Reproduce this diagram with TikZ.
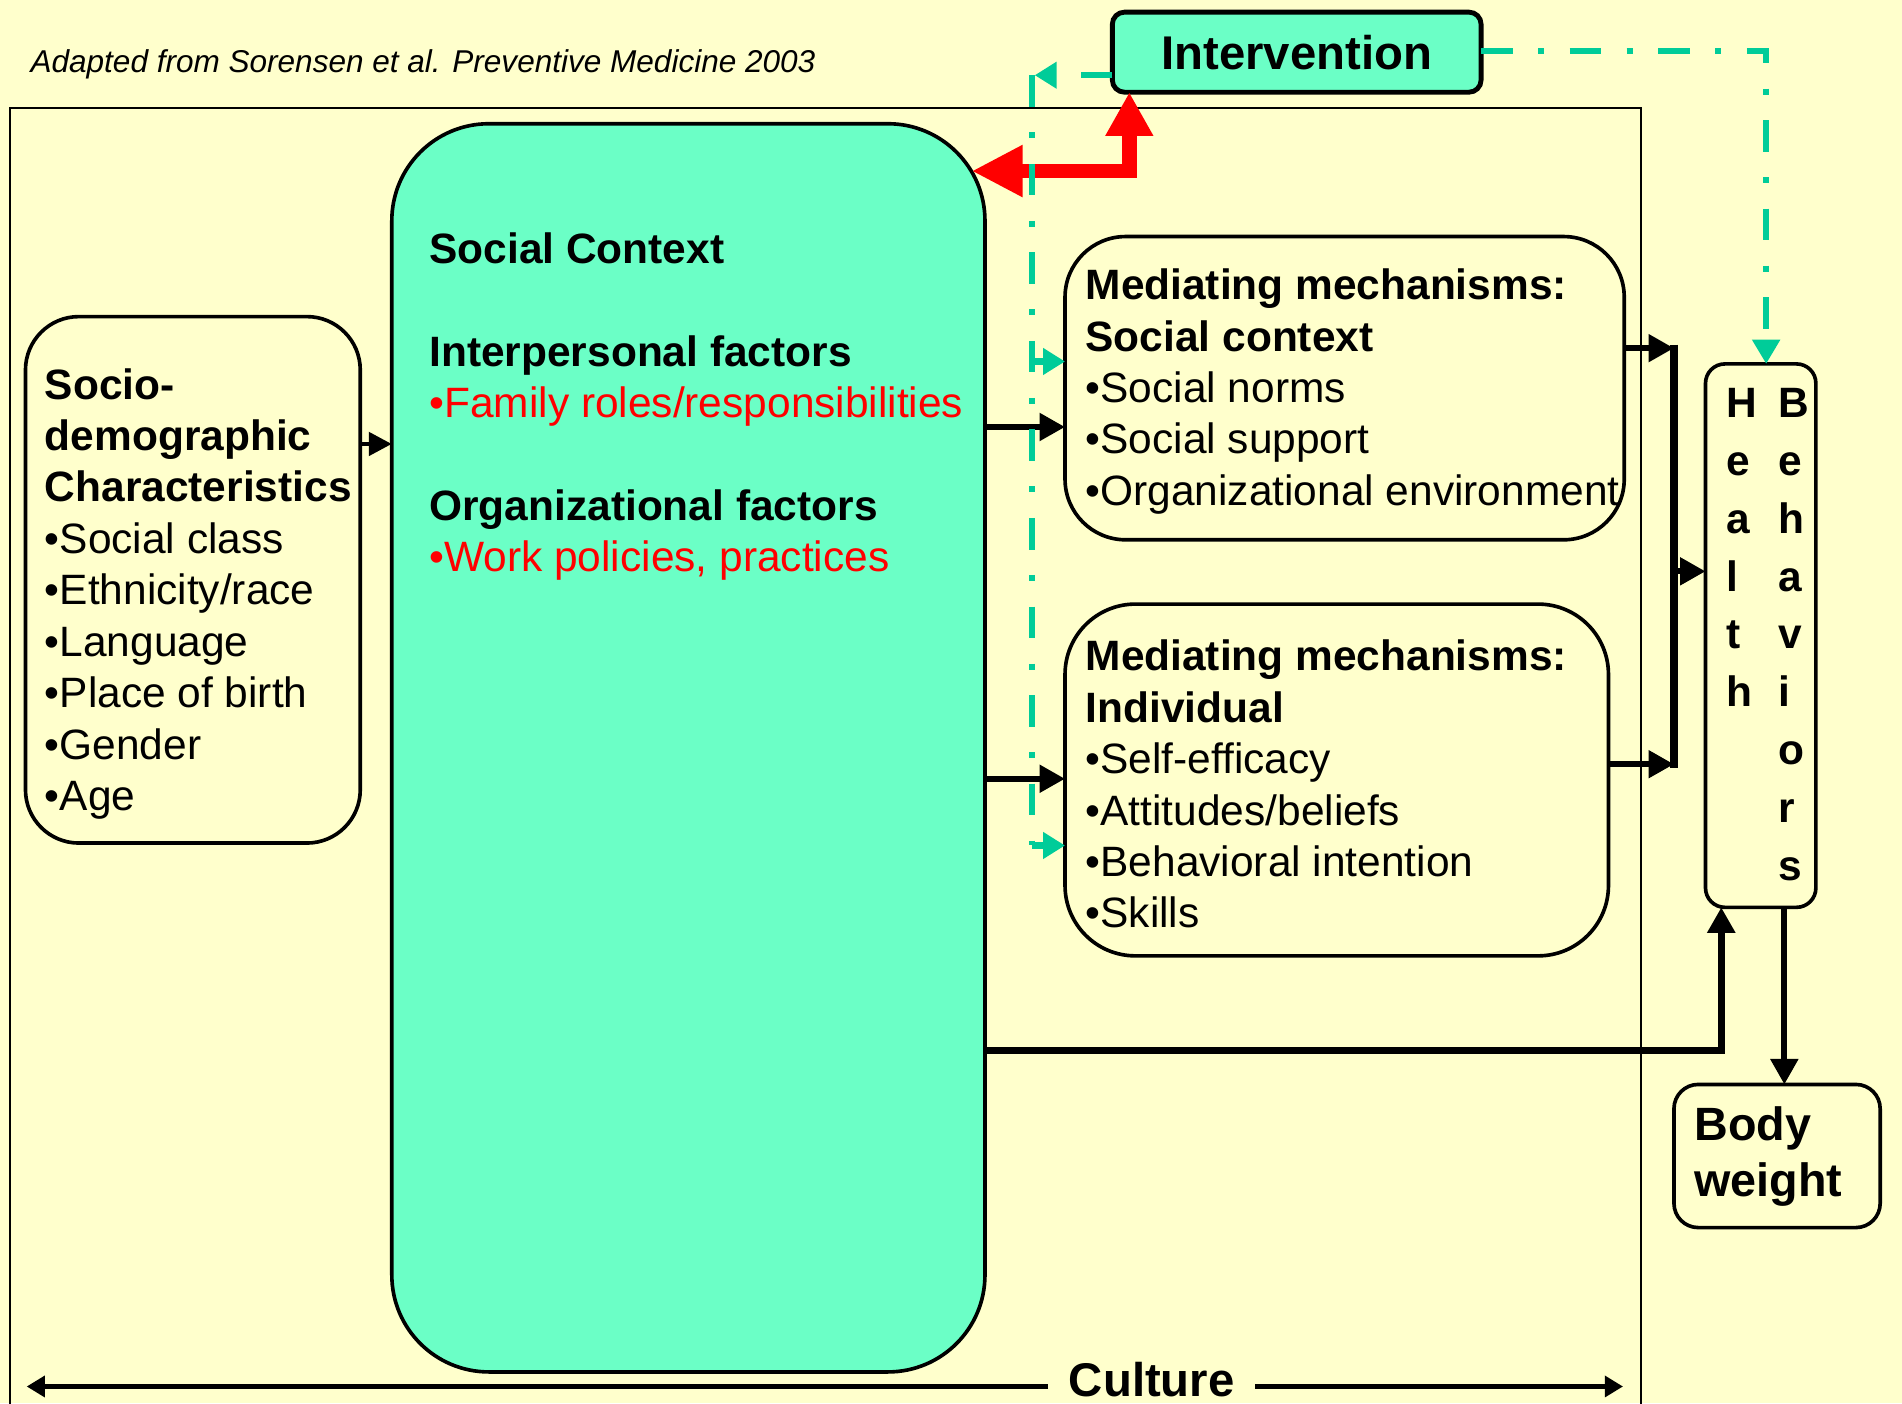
\documentclass[tikz,border=0pt]{standalone}
\usepackage{fontspec}
\setmainfont{Liberation Sans}
\usetikzlibrary{arrows.meta}
\definecolor{paper}{HTML}{FFFFCC}
\definecolor{mint}{HTML}{6BFFC6}
\definecolor{seagreen}{HTML}{00CC99}
\begin{document}
\begin{tikzpicture}[x=1pt, y=-1pt,
  box/.style={rectangle, draw=black, line width=3pt, fill=paper, outer sep=0pt, inner sep=0pt},
  % multi-line blocks are placed by the baseline of their last line
  txt/.style={inner sep=0pt, outer sep=0pt, align=left, anchor=base west,
              font=\fontsize{35}{42.4}\selectfont},
  conn/.style={draw=black, line width=5pt, -{Triangle[length=21pt, width=22pt]}},
  joinbar/.style={draw=black, line width=6pt},
  redarrow/.style={draw=red, line width=12pt, line join=miter,
                   {Triangle[length=42pt, width=40pt]}-{Triangle[length=36pt, width=37pt]}},
  tealline/.style={draw=seagreen, line width=5pt,
                   dash pattern=on 26pt off 21pt on 5pt off 21pt},
  tealtip/.style={-{Triangle[length=18pt, width=21pt]}},
  cultline/.style={draw=black, line width=4.5pt, -{Triangle[length=15pt, width=17pt]}}
]
% canvas
\useasboundingbox (0,0) rectangle (1568,1157);
\clip (0,0) rectangle (1568,1157);
\fill[paper] (0,0) rectangle (1568,1157);

% citation
\node[inner sep=0pt, anchor=base west, font=\itshape\fontsize{26}{30}\selectfont] (cite)
  at (25,60) {Adapted from Sorensen et al. Preventive Medicine 2003};

% culture frame
\draw[line width=1.5pt] (8,1180) -- (8,89) -- (1353,89) -- (1353,1180);

% boxes
\node[box, fill=mint, rounded corners=80pt, minimum width=489pt, minimum height=1029pt] (sc) at (567.5,616.5) {};
\node[box, rounded corners=44pt, minimum width=276pt, minimum height=434pt] (sd) at (159,478) {};
\node[box, rounded corners=50pt, minimum width=461pt, minimum height=250pt] (m1) at (1108.5,320) {};
\node[box, rounded corners=58pt, minimum width=448pt, minimum height=290pt] (m2) at (1102,643) {};
\node[box, rounded corners=16pt, minimum width=91pt, minimum height=448pt] (hb) at (1451.5,524) {};
\node[box, rounded corners=20pt, minimum width=170pt, minimum height=118pt] (bw) at (1465,953) {};
\node[box, fill=mint, line width=4pt, rounded corners=10pt, minimum width=304pt, minimum height=66pt,
      font=\bfseries\fontsize{39}{46}\selectfont] (iv) at (1069,43) {Intervention};

% box texts
\node[txt] (sdtxt) at (37,668.2) {\textbf{Socio-}\\\textbf{demographic}\\\textbf{Characteristics}\\
  •Social class\\•Ethnicity/race\\•Language\\•Place of birth\\•Gender\\•Age};
\node[txt] (sctxt) at (354,471.4) {\textbf{Social Context}\\[42.4pt]
  \textbf{Interpersonal factors}\\\textcolor{red}{•Family roles/responsibilities}\\[42.4pt]
  \textbf{Organizational factors}\\\textcolor{red}{•Work policies, practices}};
\node[txt] (m1txt) at (895,416.6) {\textbf{Mediating mechanisms:}\\\textbf{Social context}\\
  •Social norms\\•Social support\\•Organizational environment};
\node[txt] (m2txt) at (895,765) {\textbf{Mediating mechanisms:}\\\textbf{Individual}\\
  •Self-efficacy\\•Attitudes/beliefs\\•Behavioral intention\\•Skills};
\node[txt, font=\bfseries\fontsize{35}{47.75}\selectfont] (hbH) at (1423,582.75) {H\\e\\a\\l\\t\\h};
\node[txt, font=\bfseries\fontsize{35}{47.75}\selectfont] (hbB) at (1466,726) {B\\e\\h\\a\\v\\i\\o\\r\\s};
\node[txt, font=\bfseries\fontsize{38.5}{46}\selectfont] (bwtxt) at (1397,986) {Body\\weight};

% black connectors
\draw[conn, line width=4pt, -{Triangle[length=19pt, width=19pt]}] (sd.east |- 0,366) -- (sc.west |- 0,366);
\draw[conn] (sc.east |- 0,352) -- (m1.west |- 0,352);
\draw[conn] (sc.east |- 0,642) -- (m2.west |- 0,642);
\coordinate (j1) at (1380,287);
\coordinate (j2) at (1380,630);
\coordinate (j3) at (1380,471);
\draw[conn] (m1.east |- j1) -- (j1);
\draw[conn] (m2.east |- j2) -- (j2);
\draw[joinbar] ([yshift=3pt]j1) -- ([yshift=-3pt]j2);
\draw[conn] (j3) -- (hb.west |- j3);
\coordinate (hbin) at ([xshift=-32.5pt]hb.south);
\coordinate (hbout) at ([xshift=19.5pt]hb.south);
\draw[conn, line width=6pt] (sc.east |- 0,866) -| (hbin);
\draw[conn] (hbout) -- (hbout |- bw.north);

% intervention links
\coordinate (rt) at (801,141);
\draw[redarrow] (rt) -| (iv.south -| 931,0);
\coordinate (tl) at (851,62);
\coordinate (tb) at (851,697);
\draw[tealline, tealtip] (iv.west |- tl) -- ([xshift=2pt]tl);
\draw[tealline] (tl) -- (tb);
\draw[tealline, tealtip] (tl |- 0,298) -- (m1.west |- 0,298);
\draw[tealline, tealtip] (tb) -- (m2.west |- tb);
\draw[tealline, -{Triangle[length=20pt, width=22pt]}] (iv.east |- 0,42) -| (hb.north -| 1456,0);

% culture axis
\node[inner sep=0pt, inner xsep=17pt, anchor=base, font=\bfseries\fontsize{39}{46}\selectfont] (cul)
  at (949.5,1151) {Culture};
\coordinate (culL) at (22,1143);
\coordinate (culR) at (1338,1143);
\draw[cultline] (cul.west |- culL) -- (culL);
\draw[cultline] (cul.east |- culL) -- (culR);
\end{tikzpicture}
\end{document}
